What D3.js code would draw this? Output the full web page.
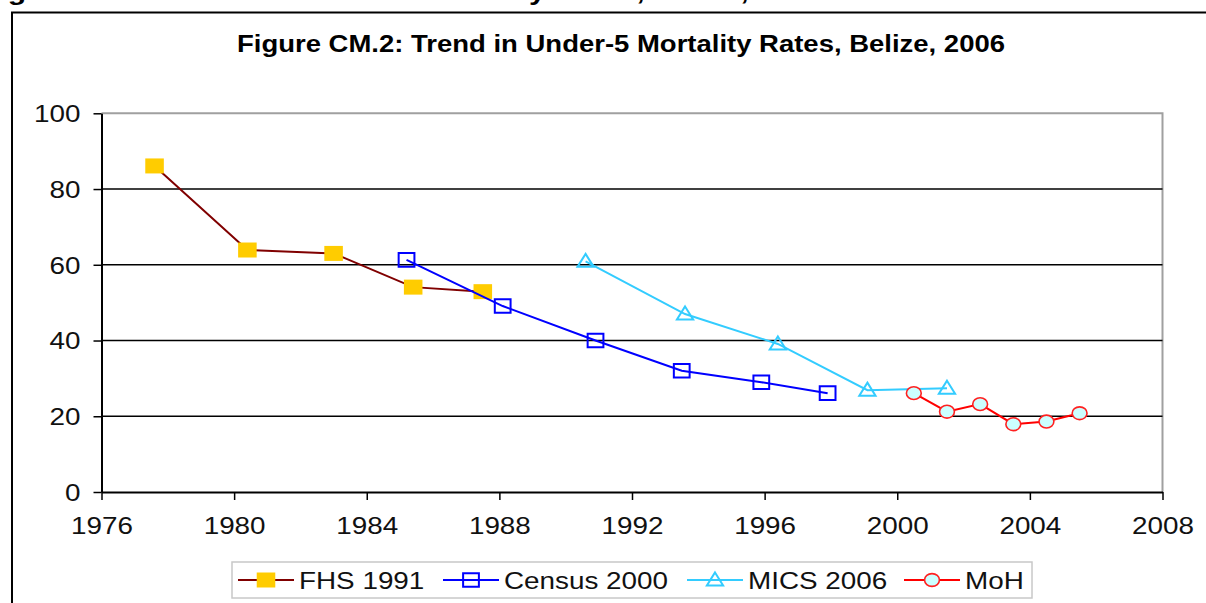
<!DOCTYPE html>
<html><head><meta charset="utf-8">
<script src="https://cdn.jsdelivr.net/npm/d3@7"></script>
<style>body{margin:0;background:#fff}svg{display:block}text{font-family:"Liberation Sans",Arial,sans-serif}</style>
</head><body><svg id="c" width="1206" height="603"></svg>
<script>
const chartTitle = "Figure CM.2: Trend in Under-5 Mortality Rates, Belize, 2006";
const xTicks = [1976, 1980, 1984, 1988, 1992, 1996, 2000, 2004, 2008];
const yTicks = [0, 20, 40, 60, 80, 100];
const seriesNames = ["FHS 1991", "Census 2000", "MICS 2006", "MoH"];
const fhsYears = [1977.6, 1980.4, 1983.0, 1985.4, 1987.5];
const fhsValues = [86.1, 63.9, 63.0, 54.1, 52.9];
const censusYears = [1985.2, 1988.1, 1990.9, 1993.5, 1995.9, 1997.9];
const censusValues = [61.3, 49.1, 40.0, 32.0, 29.0, 26.1];
const micsYears = [1990.6, 1993.6, 1996.4, 1999.1, 2001.5];
const micsValues = [60.9, 47.0, 39.1, 26.9, 27.4];
const mohYears = [2000.5, 2001.5, 2002.5, 2003.5, 2004.5, 2005.5];
const mohValues = [26.1, 21.2, 23.2, 17.9, 18.6, 20.8];

const SX = 1.16;
const svg = d3.select("#c");

// cut-off caption of the page above
svg.append("text").attr("x", -19).attr("y", 0).attr("font-weight", "bold")
  .attr("font-size", 23).attr("textLength", 843).attr("lengthAdjust", "spacingAndGlyphs")
  .text(chartTitle);

// outer frame
svg.append("path").attr("d", "M12,640V12.5H1220").attr("fill", "none").attr("stroke", "#000").attr("stroke-width", 2);

const x = d3.scaleLinear().domain([xTicks[0], xTicks[xTicks.length - 1]]).range([101.5, 1162.5]);
const y = d3.scaleLinear().domain([0, 100]).range([492, 113.3]);

// title
svg.append("text").attr("x", 621).attr("y", 52).attr("text-anchor", "middle")
  .attr("font-weight", "bold").attr("font-size", 23.5)
  .attr("textLength", 768).attr("lengthAdjust", "spacingAndGlyphs").text(chartTitle);

// plot frame (top/right gray)
svg.append("path").attr("d", `M${x.range()[0]},${y(100)}H${x.range()[1]}V${y(0)}`)
  .attr("fill", "none").attr("stroke", "#a0a0a0").attr("stroke-width", 2);

// gridlines
svg.append("g").selectAll("line").data(yTicks.filter(d => d > 0 && d < 100)).join("line")
  .attr("x1", x.range()[0]).attr("x2", x.range()[1])
  .attr("y1", d => y(d)).attr("y2", d => y(d))
  .attr("stroke", "#000").attr("stroke-width", 1.6);

// axes
const gx = svg.append("g").attr("transform", `translate(0,${y(0)})`)
  .call(d3.axisBottom(x).tickValues(xTicks).tickFormat(d3.format("d")).tickSize(8).tickSizeOuter(0));
gx.select(".domain").attr("stroke", "#000").attr("stroke-width", 2);
gx.selectAll(".tick line").attr("stroke", "#000").attr("stroke-width", 1.5);
gx.selectAll(".tick text").attr("font-size", 24).attr("fill", "#111").attr("font-family", null)
  .attr("y", 25).attr("dy", "0.71em").attr("transform", `scale(${SX},1)`);

const gy = svg.append("g").attr("transform", `translate(${x.range()[0]},0)`)
  .call(d3.axisLeft(y).tickValues(yTicks).tickSize(8).tickSizeOuter(0));
gy.select(".domain").attr("stroke", "#000").attr("stroke-width", 2);
gy.selectAll(".tick line").attr("stroke", "#000").attr("stroke-width", 1.5);
gy.selectAll(".tick text").attr("font-size", 24).attr("fill", "#111").attr("font-family", null)
  .attr("x", -21 / SX).attr("dy", "0.35em").attr("transform", `scale(${SX},1)`);

// series
const symSquareF = "M-8,-7.5H8V7.5H-8Z";
const symSquare = "M-6.8,-6.8H6.8V6.8H-6.8Z";
const symTri = "M0,-7.5L7,5.5H-7Z";
const series = [
  { name: seriesNames[0], xs: fhsYears, ys: fhsValues, line: "#800000", lw: 2, sym: symSquareF, fill: "#FFCC00", stroke: "none", sw: 0, circle: false },
  { name: seriesNames[1], xs: censusYears, ys: censusValues, line: "#0000FF", lw: 2, sym: symSquare, fill: "none", stroke: "#0000FF", sw: 2, circle: false },
  { name: seriesNames[2], xs: micsYears, ys: micsValues, line: "#33CCFF", lw: 2, sym: symTri, fill: "none", stroke: "#33CCFF", sw: 2, circle: false },
  { name: seriesNames[3], xs: mohYears, ys: mohValues, line: "#FF0000", lw: 2, sym: null, fill: "#CCFFFF", stroke: "#FF2020", sw: 1.6, circle: true }
];

const line = d3.line().x(d => x(d[0])).y(d => y(d[1]));
function drawMarker(g, cx, cy, s) {
  const m = g.append("g").attr("transform", `translate(${cx},${cy}) scale(${SX},1)`);
  if (s.circle) {
    m.append("circle").attr("r", 6.4).attr("fill", s.fill).attr("stroke", s.stroke)
      .attr("stroke-width", s.sw).attr("vector-effect", "non-scaling-stroke");
  } else {
    m.append("path").attr("d", s.sym).attr("fill", s.fill).attr("stroke", s.stroke)
      .attr("stroke-width", s.sw).attr("vector-effect", "non-scaling-stroke");
  }
}
series.forEach(s => {
  const pts = s.xs.map((v, i) => [v, s.ys[i]]);
  const g = svg.append("g");
  g.append("path").attr("d", line(pts)).attr("fill", "none").attr("stroke", s.line).attr("stroke-width", s.lw);
  pts.forEach(p => drawMarker(g, x(p[0]), y(p[1]), s));
});

// legend
svg.append("rect").attr("x", 232).attr("y", 562).attr("width", 800).attr("height", 36)
  .attr("fill", "#fff").attr("stroke", "#c8c8c8").attr("stroke-width", 1.5);
const legX = [238, 443, 687, 904];
series.forEach((s, i) => {
  const g = svg.append("g");
  const lx = legX[i];
  g.append("line").attr("x1", lx).attr("x2", lx + 56).attr("y1", 580).attr("y2", 580)
    .attr("stroke", s.line).attr("stroke-width", s.lw);
  drawMarker(g, lx + 28, 580, s);
  g.append("text").attr("transform", `translate(${lx + 61},589) scale(${SX},1)`)
    .attr("font-size", 24).attr("fill", "#111").text(s.name);
});
</script></body></html>
